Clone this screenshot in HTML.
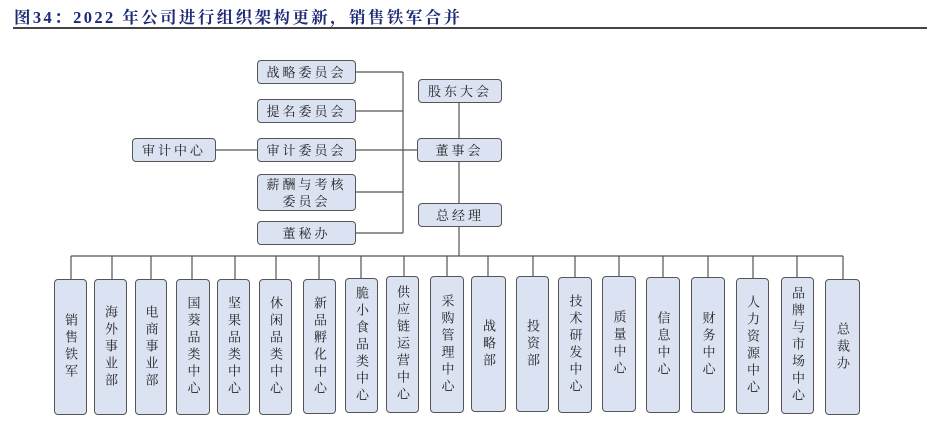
<!DOCTYPE html>
<html><head><meta charset="utf-8"><style>
body{margin:0;width:927px;height:425px;background:#fff;overflow:hidden;position:relative;font-family:"Liberation Serif","Noto Serif CJK SC",serif;}
.t{position:absolute;left:14px;top:4px;font-size:16.5px;letter-spacing:2.4px;font-weight:bold;color:#1c2a78;white-space:nowrap;}
.hr{position:absolute;left:13px;top:27px;width:914px;height:2px;background:#444;}
.b{position:absolute;background:#dbe3f2;border:1.3px solid #555;border-radius:4px;box-sizing:border-box;display:flex;align-items:center;justify-content:center;font-size:13px;color:#222;letter-spacing:3px;text-align:center;line-height:17px;}
.v{writing-mode:vertical-rl;letter-spacing:4px;line-height:13px;}
svg{position:absolute;left:0;top:0}
</style></head><body>
<div class="t">图34：2022 年公司进行组织架构更新，销售铁军合并</div>
<div class="hr"></div>
<svg width="927" height="425"><g stroke="#555" stroke-width="1.2" fill="none">
<path d="M356 72H403M356 111H403M356 150H417M356 192H403M356 233H403M403 72V233M216 150H257"/>
<path d="M459 103V138M459 162V203M459 227V256"/>
<path d="M71 256H843"/>
<path d="M71 256V279M112 256V279M151 256V279M192 256V279M235 256V279M276 256V279M319 256V279M361 256V278M404 256V276M447 256V276M488 256V276M533 256V276M575 256V277M619 256V276M663 256V277M708 256V277M753 256V278M797 256V277M843 256V279"/>
</g></svg>
<div class="b" style="left:257px;top:60px;width:99px;height:24px">战略委员会</div>
<div class="b" style="left:257px;top:99px;width:99px;height:24px">提名委员会</div>
<div class="b" style="left:257px;top:138px;width:99px;height:24px">审计委员会</div>
<div class="b" style="left:257px;top:174px;width:99px;height:37px">薪酬与考核<br>委员会</div>
<div class="b" style="left:257px;top:221px;width:99px;height:24px">董秘办</div>
<div class="b" style="left:132px;top:138px;width:84px;height:24px">审计中心</div>
<div class="b" style="left:418px;top:79px;width:84px;height:24px">股东大会</div>
<div class="b" style="left:417px;top:138px;width:85px;height:24px">董事会</div>
<div class="b" style="left:418px;top:203px;width:84px;height:24px">总经理</div>

<div class="b v" style="left:54px;top:279px;width:33px;height:136px">销售铁军</div>
<div class="b v" style="left:94px;top:279px;width:33px;height:136px">海外事业部</div>
<div class="b v" style="left:135px;top:279px;width:32px;height:136px">电商事业部</div>
<div class="b v" style="left:176px;top:279px;width:34px;height:136px">国葵品类中心</div>
<div class="b v" style="left:217px;top:279px;width:33px;height:136px">坚果品类中心</div>
<div class="b v" style="left:259px;top:279px;width:33px;height:136px">休闲品类中心</div>
<div class="b v" style="left:303px;top:279px;width:33px;height:135px">新品孵化中心</div>
<div class="b v" style="left:345px;top:278px;width:33px;height:135px">脆小食品类中心</div>
<div class="b v" style="left:386px;top:276px;width:33px;height:137px">供应链运营中心</div>
<div class="b v" style="left:430px;top:276px;width:34px;height:137px">采购管理中心</div>
<div class="b v" style="left:471px;top:276px;width:35px;height:136px">战略部</div>
<div class="b v" style="left:516px;top:276px;width:33px;height:136px">投资部</div>
<div class="b v" style="left:558px;top:277px;width:34px;height:136px">技术研发中心</div>
<div class="b v" style="left:602px;top:276px;width:34px;height:136px">质量中心</div>
<div class="b v" style="left:646px;top:277px;width:34px;height:136px">信息中心</div>
<div class="b v" style="left:691px;top:277px;width:34px;height:136px">财务中心</div>
<div class="b v" style="left:736px;top:278px;width:33px;height:136px">人力资源中心</div>
<div class="b v" style="left:781px;top:277px;width:33px;height:137px">品牌与市场中心</div>
<div class="b v" style="left:825px;top:279px;width:35px;height:136px">总裁办</div>
</body></html>
